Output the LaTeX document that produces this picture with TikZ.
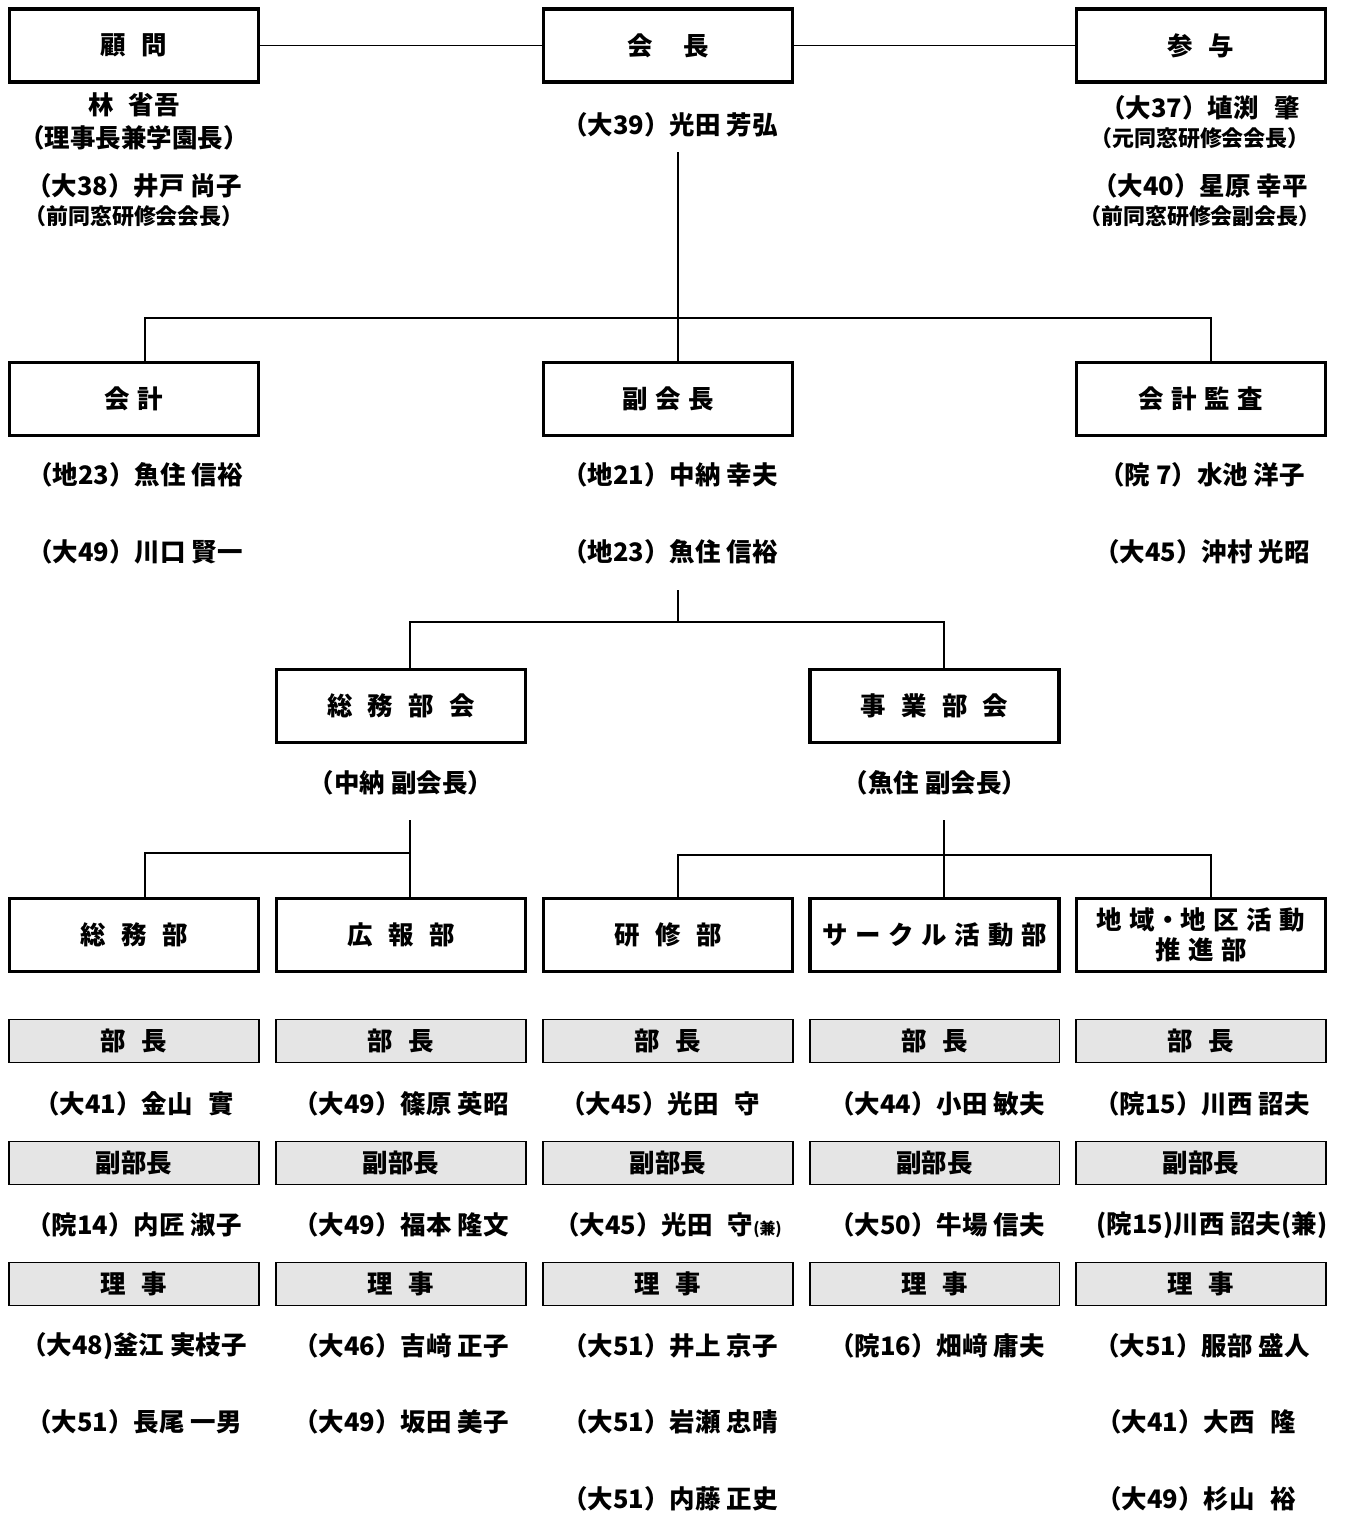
\documentclass[tikz,border=0pt]{standalone}
\usepackage{fontspec}
\setmainfont{Noto Sans CJK JP}
\newcommand{\jg}{\hspace{0.6em}}
\newcommand{\jw}{\hspace{1.2em}}
\newcommand{\jn}{\hspace{0.3em}}
\tikzset{
  box/.style={draw, line width=1.8pt, minimum width=4.98cm, minimum height=1.46cm, inner sep=0pt, align=center, font=\fontsize{14.5}{17}\selectfont\bfseries},
  shbox/.style={draw, line width=1.1pt, fill=black!10, minimum width=5.0cm, minimum height=0.86cm, inner sep=0pt, font=\fontsize{14.5}{17}\selectfont\bfseries},
  nm/.style={inner sep=0pt, font=\fontsize{14.5}{17}\selectfont\bfseries},
  sm/.style={inner sep=0pt, font=\fontsize{12.5}{14}\selectfont\bfseries},
  ln/.style={line width=1.1pt}
}
\begin{document}
\begin{tikzpicture}[x=0.02cm, y=-0.02cm]
\useasboundingbox (0,0) rectangle (1349,1514);
% top row
\node[box] (komon) at (134,45.5) {顧\jg 問};
\node[box] (kaicho) at (668,45.5) {会\jw 長};
\node[box] (sanyo) at (1201,45.5) {参\jg 与};
\draw[ln] (komon.east) -- (kaicho.west);
\draw[ln] (kaicho.east) -- (sanyo.west);
\node[nm] (k1) at (134,105) {林\jg 省吾};
\node[nm] (k2) at (134,138) {（理事長兼学園長）};
\node[nm] (k3) at (134,186) {（大38）井戸 尚子};
\node[sm] (k4) at (134,216) {（前同窓研修会会長）};
\node[nm] (c1) at (670,125) {（大39）光田 芳弘};
\node[nm] (s1) at (1200,108) {（大37）埴渕\jg 肇};
\node[sm] (s2) at (1200,138) {（元同窓研修会会長）};
\node[nm] (s3) at (1200,186) {（大40）星原 幸平};
\node[sm] (s4) at (1200,216) {（前同窓研修会副会長）};
% row 2
\node[box] (kaikei) at (134,399) {会\jn 計};
\node[box] (fuku) at (668,399) {副\jn 会\jn 長};
\node[box] (kansa) at (1201,399) {会\jn 計\jn 監\jn 査};
\coordinate (t1) at (678,152);
\coordinate (j1) at (678,318);
\coordinate (l1) at (145,318);
\coordinate (r1) at (1211,318);
\draw[ln] (t1) -- (j1 |- fuku.north);
\draw[ln] (l1 |- kaikei.north) -- (l1) -- (r1) -- (r1 |- kansa.north);
\node[nm] (a1) at (135,475) {（地23）魚住 信裕};
\node[nm] (a2) at (135,552) {（大49）川口 賢一};
\node[nm] (b1) at (670,475) {（地21）中納 幸夫};
\node[nm] (b2) at (670,552) {（地23）魚住 信裕};
\node[nm] (d1) at (1202,475) {（院 7）水池 洋子};
\node[nm] (d2) at (1202,552) {（大45）沖村 光昭};
% row 3
\node[box] (soumukai) at (401,706) {総\jg 務\jg 部\jg 会};
\node[box] (jigyokai) at (934.5,706) {事\jg 業\jg 部\jg 会};
\coordinate (t2) at (678,590);
\coordinate (j2) at (678,622);
\coordinate (l2) at (410,622);
\coordinate (r2) at (944,622);
\draw[ln] (t2) -- (j2);
\draw[ln] (l2 |- soumukai.north) -- (l2) -- (r2) -- (r2 |- jigyokai.north);
\node[nm] (e1) at (401,783) {（中納 副会長）};
\node[nm] (f1) at (935,783) {（魚住 副会長）};
% row 4
\node[box] (soumu) at (134,935) {総\jg 務\jg 部};
\node[box] (koho) at (401,935) {広\jg 報\jg 部};
\node[box] (kenshu) at (668,935) {研\jg 修\jg 部};
\node[box] (circle) at (934.5,935) {サ\jn ー\jn ク\jn ル\jn 活\jn 動\jn 部};
\node[box] (chiiki) at (1201,935) {地\jn 域・地\jn 区\jn 活\jn 動\\推\jn 進\jn 部};
\coordinate (t3) at (410,820);
\coordinate (l3) at (145,853);
\coordinate (m3) at (410,853);
\draw[ln] (t3) -- (m3) -- (m3 |- koho.north);
\draw[ln] (m3) -- (l3) -- (l3 |- soumu.north);
\coordinate (t4) at (944,820);
\coordinate (m4) at (944,855);
\coordinate (l4) at (678,855);
\coordinate (r4) at (1211,855);
\draw[ln] (t4) -- (m4 |- circle.north);
\draw[ln] (l4 |- kenshu.north) -- (l4) -- (r4) -- (r4 |- chiiki.north);
% shaded headers
\foreach \n/\x in {1/134,2/401,3/668,4/934.5,5/1201}{
  \node[shbox] (bucho\n) at (\x,1041) {部\jg 長};
  \node[shbox] (fbucho\n) at (\x,1163) {副部長};
  \node[shbox] (riji\n) at (\x,1284) {理\jg 事};
}
% column 1
\node[nm] (p11) at (134,1104) {（大41）金山\jg 實};
\node[nm] (p12) at (134,1225) {（院14）内匠 淑子};
\node[nm] (p13) at (134,1346) {（大48)釜江 実枝子};
\node[nm] (p14) at (134,1422) {（大51）長尾 一男};
% column 2
\node[nm] (p21) at (401,1104) {（大49）篠原 英昭};
\node[nm] (p22) at (401,1225) {（大49）福本 隆文};
\node[nm] (p23) at (401,1346) {（大46）吉﨑 正子};
\node[nm] (p24) at (401,1422) {（大49）坂田 美子};
% column 3
\node[nm] (p31) at (660,1104) {（大45）光田\jg 守};
\node[nm] (p32) at (668,1225) {（大45）光田\jg 守{\fontsize{9}{10}\selectfont (兼)}};
\node[nm] (p33) at (670,1346) {（大51）井上 京子};
\node[nm] (p34) at (670,1422) {（大51）岩瀬 忠晴};
\node[nm] (p35) at (670,1499) {（大51）内藤 正史};
% column 4
\node[nm] (p41) at (937,1104) {（大44）小田 敏夫};
\node[nm] (p42) at (937,1225) {（大50）牛場 信夫};
\node[nm] (p43) at (937,1346) {（院16）畑﨑 庸夫};
% column 5
\node[nm] (p51) at (1202,1104) {（院15）川西 詔夫};
\node[nm] (p52) at (1212,1225) {(院15)川西 詔夫(兼)};
\node[nm] (p53) at (1202,1346) {（大51）服部 盛人};
\node[nm] (p54) at (1196,1422) {（大41）大西\jg 隆};
\node[nm] (p55) at (1196,1499) {（大49）杉山\jg 裕};
\end{tikzpicture}
\end{document}
